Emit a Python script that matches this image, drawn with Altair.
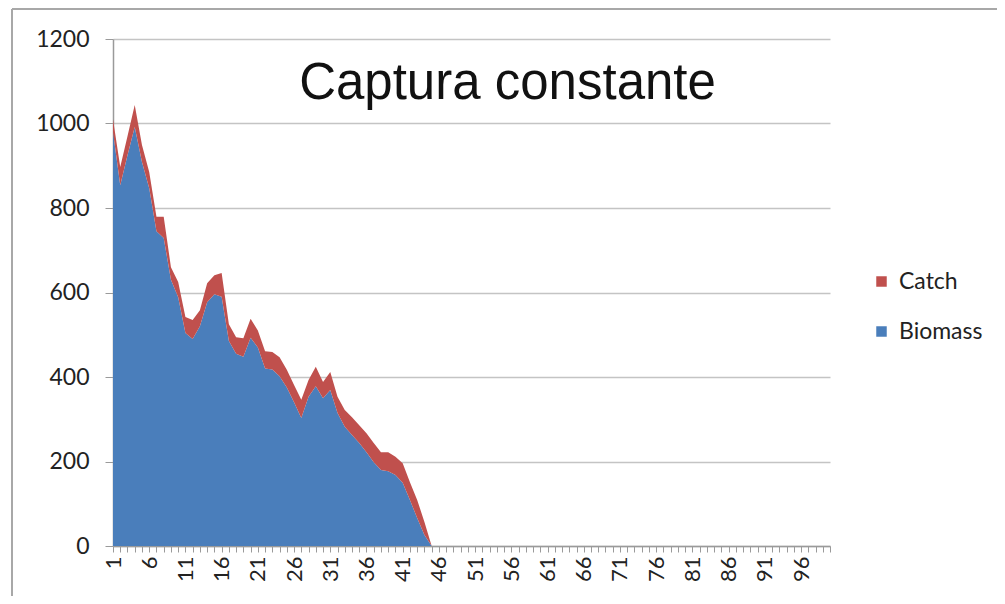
import altair as alt
import pandas as pd

years = list(range(1, 101))
biomass = [980, 854, 925, 992, 909, 847, 745, 729, 630, 589,
           504, 490, 520, 577, 596, 590, 485, 455, 448, 493,
           470, 420, 418, 402, 375, 340, 303, 353, 378, 350,
           369, 315, 282, 263, 244, 222, 198, 180, 177, 168,
           150, 109, 66, 26] + [0] * 56
catch = [30, 43, 45, 52, 40, 38, 34, 50, 30, 36,
         38, 45, 38, 45, 45, 56, 40, 39, 44, 45,
         40, 41, 41, 45, 42, 41, 43, 40, 46, 38,
         43, 38, 40, 42, 42, 45, 46, 42, 45, 43,
         46, 42, 43, 31] + [0] * 56
series = ["Catch", "Biomass"]
colors = ["#C0504D", "#4A7EBB"]
y_ticks = [0, 200, 400, 600, 800, 1000, 1200]

rows = []
for i, yr in enumerate(years):
    rows.append({"year": yr, "series": "Biomass", "value": biomass[i], "ord": 0})
    rows.append({"year": yr, "series": "Catch", "value": catch[i], "ord": 1})
df = pd.DataFrame(rows)

FONT = "Lato"

area = alt.Chart(df).mark_area(opacity=1, interpolate="linear").encode(
    x=alt.X("year:Q",
            scale=alt.Scale(domain=[1, 100], nice=False, zero=False),
            axis=alt.Axis(title=None, values=years,
                          labelExpr="(datum.value - 1) % 5 == 0 ? datum.value : ''",
                          labelAngle=270, labelFontSize=22, labelFont=FONT,
                          labelColor="#222222", labelPadding=4,
                          tickSize=6, tickColor="#9a9a9a", domainColor="#9a9a9a",
                          domainWidth=1.5, grid=False, labelOverlap=False,
                          labelFlush=False)),
    y=alt.Y("value:Q", stack="zero",
            scale=alt.Scale(domain=[0, 1200], nice=False),
            axis=alt.Axis(title=None, values=y_ticks, format="d", labelFontSize=23,
                          labelFont=FONT, labelColor="#222222",
                          tickSize=8, tickColor="#9a9a9a", labelPadding=16,
                          domainColor="#9a9a9a", domainWidth=1.5,
                          grid=True, gridColor="#c4c4c4", gridWidth=1.5)),
    color=alt.Color("series:N",
                    scale=alt.Scale(domain=series, range=colors),
                    legend=alt.Legend(title=None, orient="none", legendX=757, legendY=231,
                                      labelFont=FONT, labelFontSize=23,
                                      labelColor="#222222", symbolType="square",
                                      symbolSize=110, symbolStrokeWidth=0,
                                      rowPadding=26, labelOffset=6)),
    order=alt.Order("ord:Q"),
)

border_df = pd.DataFrame({"a": [0]})
left_border = alt.Chart(border_df).mark_rule(color="#a8a8a8", strokeWidth=2).encode(
    x=alt.value(-101), y=alt.value(-30), y2=alt.value(580))
top_border = alt.Chart(border_df).mark_rule(color="#a8a8a8", strokeWidth=2).encode(
    x=alt.value(-101), x2=alt.value(900), y=alt.value(-30))

chart = alt.layer(area, left_border, top_border).properties(
    width=717, height=507,
    autosize=alt.AutoSizeParams(type="none"),
    padding={"left": 105, "top": 31, "right": 167, "bottom": 50},
    title=alt.TitleParams("Captura constante", font="Liberation Sans", fontSize=51,
                          fontWeight="normal", color="#111111", anchor="middle",
                          dx=36, dy=106, orient="top"),
).configure_view(stroke=None)

chart.save("out.html", embed_options={"renderer": "svg", "actions": False})
